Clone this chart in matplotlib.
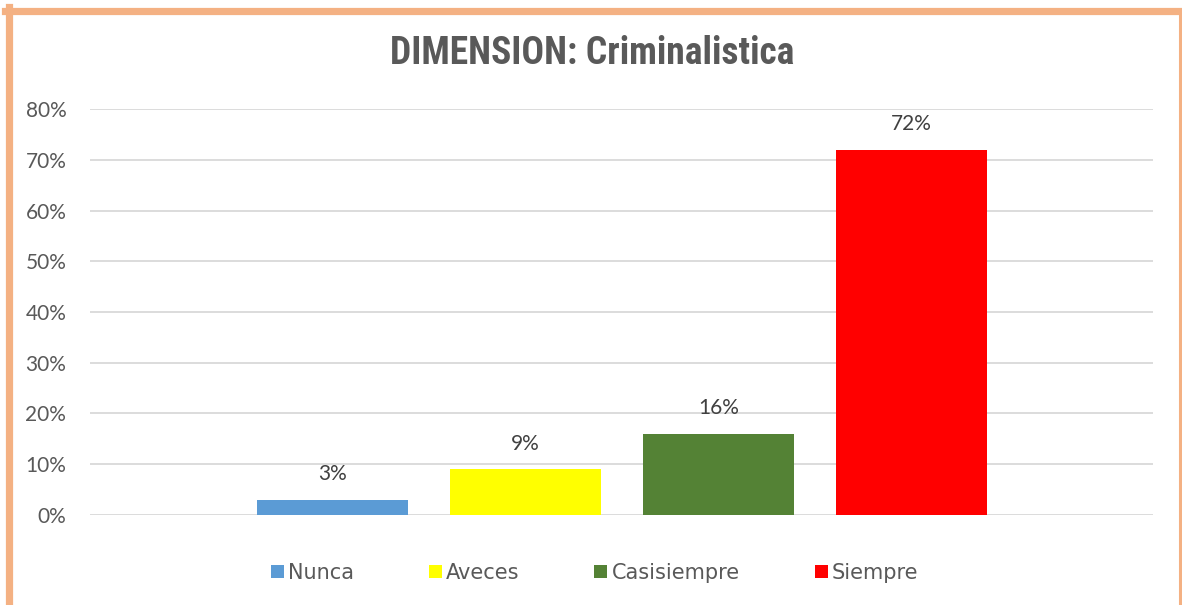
import matplotlib.pyplot as plt
from matplotlib import font_manager
from matplotlib.lines import Line2D

categories = ["Nunca", "Aveces", "Casisiempre", "Siempre"]
values = [3, 9, 16, 72]
colors = ["#5B9BD5", "#FFFF00", "#548235", "#FF0000"]
yticks = [0, 10, 20, 30, 40, 50, 60, 70, 80]

# look for a narrow bold face for the title, else fall back
installed = {f.name for f in font_manager.fontManager.ttflist}
title_font, title_size = "Liberation Sans", 19
for name in ["Liberation Sans Narrow", "Roboto Condensed", "Open Sans Condensed", "DejaVu Sans Condensed"]:
    if name in installed:
        title_font, title_size = name, 27
        break

fig = plt.figure(figsize=(11.82, 6.05), dpi=100)
ax = fig.add_axes([0.0761, 0.1488, 0.8994, 0.671])

x = range(len(categories))
bars = ax.bar(x, values, width=0.782, color=colors, label=categories, zorder=3)

for xi, v in zip(x, values):
    ax.text(xi, v + 5.0, f"{v}%", ha="center", va="center",
            fontsize=15, color="#404040", family="Lato")

ax.set_xlim(-1.256, 4.251)
ax.set_ylim(0, 80)
ax.set_yticks(yticks)
ax.set_yticklabels([f"{t}%" for t in yticks], fontsize=15, color="#595959", family="Lato")
ax.set_xticks([])
ax.tick_params(axis="y", length=0, pad=17)
ax.grid(axis="y", color="#D9D9D9", linewidth=1.3, zorder=0)
for s in ax.spines.values():
    s.set_visible(False)

fig.text(0.501, 0.911, "DIMENSION: Criminalistica", ha="center", va="center",
         fontsize=title_size, fontweight="bold", color="#595959", family=title_font)

leg = fig.legend(handles=list(bars), labels=categories, loc="center",
                 bbox_to_anchor=(0.503, 0.053), ncol=4, frameon=False,
                 prop={"family": "DejaVu Sans", "size": 15},
                 handlelength=0.62, handleheight=0.62, handletextpad=0.2,
                 columnspacing=3.6)
for t in leg.get_texts():
    t.set_color("#595959")

# orange frame: thick on left and top, thin on right
frame = "#F4B183"
fig.add_artist(Line2D([8.5 / 1182, 8.5 / 1182], [0, 1 - 7 / 605], color=frame, linewidth=5.2))
fig.add_artist(Line2D([5 / 1182, 1181 / 1182], [1 - 10.5 / 605, 1 - 10.5 / 605], color=frame, linewidth=5.2))
fig.add_artist(Line2D([1179.5 / 1182, 1179.5 / 1182], [0, 1 - 10 / 605], color=frame, linewidth=2.2))

fig.savefig("out.png", dpi=100)
